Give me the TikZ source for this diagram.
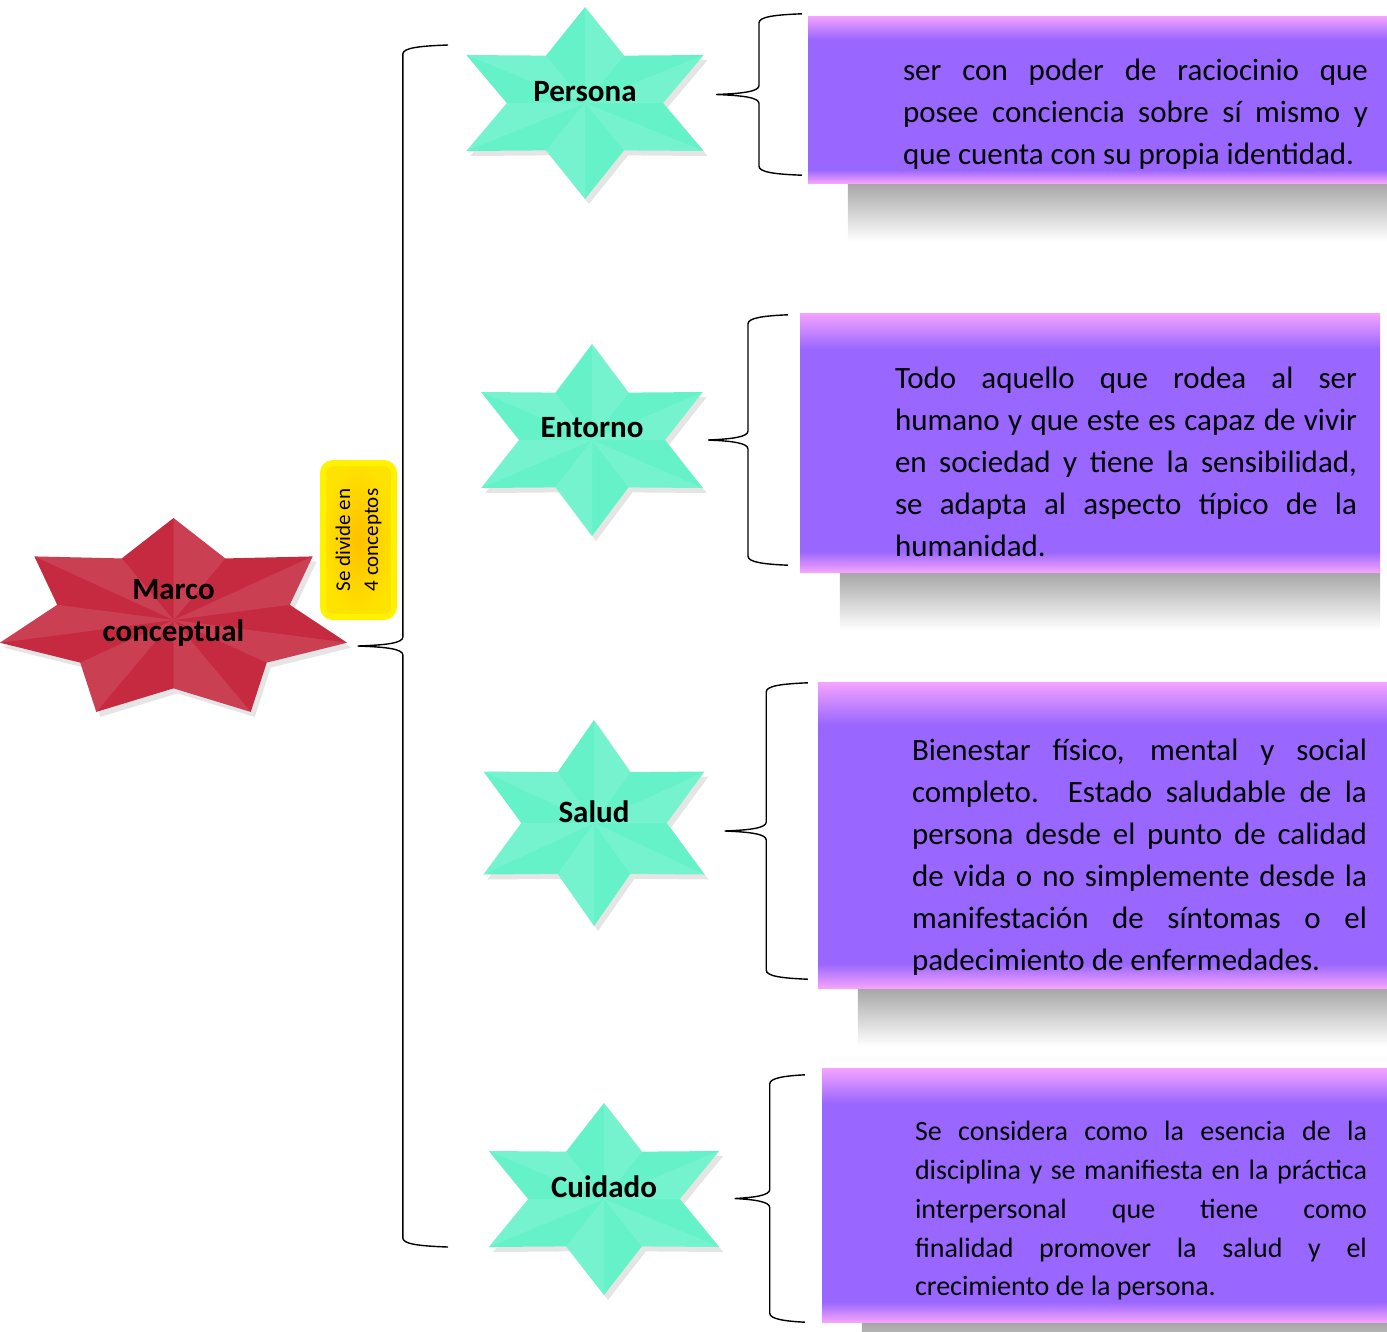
\documentclass[tikz,border=0pt]{standalone}
\usepackage{fontspec}
\setmainfont{Carlito}
\usepackage{tikz}
\usetikzlibrary{calc}
\usetikzlibrary{backgrounds}

\definecolor{lila}{HTML}{9966FF}
\definecolor{rosa}{HTML}{F5A3FF}
\definecolor{menta}{HTML}{66F2C9}
\definecolor{carmin}{HTML}{C62A40}
\definecolor{oro}{HTML}{FFC000}

\pgfdeclareverticalshading{bisel}{100bp}{color(0bp)=(rosa); color(25bp)=(rosa); color(29bp)=(lila); color(68bp)=(lila); color(75bp)=(rosa); color(100bp)=(rosa)}

% centro, puntas, rx, ry, razon, color
\newcommand{\estrella}[6]{%
  \fill[black!10,shift={(#1)},xshift=4pt,yshift=-5pt] (-90:#3 and #4)
    \foreach \k in {1,...,#2}{ -- ({-90+(\k-.5)*360/#2}:{#5*#3} and {#5*#4}) -- ({-90+\k*360/#2}:#3 and #4)} -- cycle;
  \fill[#6,shift={(#1)}] (-90:#3 and #4)
    \foreach \k in {1,...,#2}{ -- ({-90+(\k-.5)*360/#2}:{#5*#3} and {#5*#4}) -- ({-90+\k*360/#2}:#3 and #4)} -- cycle;
  \foreach \k in {1,...,#2}{
    \fill[white,opacity=.1,shift={(#1)}] (0,0) -- ({-90+(\k-1)*360/#2}:#3 and #4) -- ({-90+(\k-.5)*360/#2}:{#5*#3} and {#5*#4}) -- cycle;}
}

% punta, extremo superior, extremo inferior
\newcommand{\llave}[3]{%
  \draw[line width=1.4pt] let \p1=(#1), \p2=(#2), \p3=(#3),
      \n1={(\x1+\x2)/2}, \n2={(\y2+\y3)/2} in
    (\p2) .. controls (\n1+16pt,\y2-1pt) and (\n1,\y2-3pt) .. (\n1,\y2-9pt)
    -- (\n1,\n2+9pt) .. controls (\n1,\n2+3pt) and (\n1-16pt,\n2+1pt) .. (\x1,\n2)
    .. controls (\n1-16pt,\n2-1pt) and (\n1,\n2-3pt) .. (\n1,\n2-9pt)
    -- (\n1,\y3+9pt) .. controls (\n1,\y3+3pt) and (\n1+16pt,\y3+1pt) .. (\p3);}

\begin{document}
\begin{tikzpicture}[x=1pt,y=-1pt,
  etiqueta/.style={font=\fontsize{31}{42}\selectfont\bfseries, inner sep=0pt, align=center},
  caja/.style={shade, shading=bisel, inner sep=0pt},
  texto/.style={font=\fontsize{31}{42}\selectfont, inner sep=0pt, align=justify}]
\useasboundingbox (0,0) rectangle (1387,1331);

\estrella{173.5,620}{7}{178}{102}{.67}{carmin}
\node[etiqueta, minimum width=346] (marco) at (173.5,613) {Marco\\conceptual};

\node[rotate=90, rounded corners=10pt, draw=yellow, line width=6pt, inner color=oro, outer color=yellow!55!oro,
  minimum width=154, minimum height=71, align=left, font=\fontsize{21}{28}\selectfont] (divide) at (358.5,540) {Se divide en\\4 conceptos};

\estrella{585,103}{6}{137}{96}{.57}{menta}
\estrella{592,440}{6}{128}{96}{.57}{menta}
\estrella{594,823}{6}{127.6}{103}{.57}{menta}
\estrella{604,1199}{6}{133}{96}{.57}{menta}

\node[etiqueta, minimum width=238] (persona) at (585,92) {Persona};
\node[etiqueta, minimum width=222] (entorno) at (592,428) {Entorno};
\node[etiqueta, minimum width=221] (salud) at (594,812) {Salud};
\node[etiqueta, minimum width=231] (cuidado) at (604,1187) {Cuidado};

\node[caja, minimum width=579, minimum height=167] (def-persona) at (1097.5,99.5) {};
\node[caja, minimum width=580, minimum height=259] (def-entorno) at (1090,442.5) {};
\node[caja, minimum width=569, minimum height=306] (def-salud) at (1102.5,835) {};
\node[caja, minimum width=565, minimum height=254] (def-cuidado) at (1104.5,1195) {};

\node[texto, text width=465] (txt-persona) at (1135.5,114) {ser con poder de raciocinio que\linebreak posee conciencia sobre sí mismo y\linebreak que cuenta con su propia identidad.};
\node[texto, text width=462] (txt-entorno) at (1126,461.5) {Todo aquello que rodea al ser\linebreak humano y que este es capaz de vivir\linebreak en sociedad y tiene la sensibilidad,\linebreak se adapta al aspecto típico de la\linebreak humanidad.};
\node[texto, text width=455] (txt-salud) at (1139.5,857) {Bienestar físico, mental y social\linebreak completo. Estado saludable de la\linebreak persona desde el punto de calidad\linebreak de vida o no simplemente desde la\linebreak manifestación de síntomas o el\linebreak padecimiento de enfermedades.};
\node[texto, text width=452, font=\fontsize{28}{38.75}\selectfont] (txt-cuidado) at (1141,1211) {Se considera como la esencia de la\linebreak disciplina y se manifiesta en la práctica\linebreak interpersonal que tiene como\linebreak finalidad promover la salud y el\linebreak crecimiento de la persona.};

\begin{pgfonlayer}{background}
\shade[top color=black!35, bottom color=white] ($(def-persona.south west)+(40,0)$) rectangle ($(def-persona.south east)+(0,58)$);
\shade[top color=black!35, bottom color=white] ($(def-entorno.south west)+(40,0)$) rectangle ($(def-entorno.south east)+(0,58)$);
\shade[top color=black!35, bottom color=white] ($(def-salud.south west)+(40,0)$) rectangle ($(def-salud.south east)+(0,58)$);
\shade[top color=black!35, bottom color=white] ($(def-cuidado.south west)+(40,0)$) rectangle ($(def-cuidado.south east)+(0,58)$);
\end{pgfonlayer}

\coordinate (arriba) at (448,45);
\coordinate (abajo) at (448,1247);
\llave{$(marco.east)+(11,0)$}{arriba}{abajo}

\llave{$(persona.east)+(12,0)$}{$(def-persona.north west)+(-6,-2)$}{$(def-persona.south west)+(-6,-8)$}
\llave{$(entorno.east)+(5,0)$}{$(def-entorno.north west)+(-12,2)$}{$(def-entorno.south west)+(-12,-7)$}
\llave{$(salud.east)+(20,0)$}{$(def-salud.north west)+(-10,1)$}{$(def-salud.south west)+(-10,-9)$}
\llave{$(cuidado.east)+(15,0)$}{$(def-cuidado.north west)+(-17,7)$}{$(def-cuidado.south west)+(-17,0)$}

\end{tikzpicture}
\end{document}
